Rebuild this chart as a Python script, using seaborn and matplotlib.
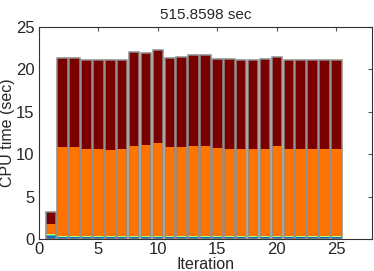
import numpy as np
import pandas as pd
import matplotlib
matplotlib.use("Agg")
import matplotlib.pyplot as plt
import seaborn as sns

sns.set_style("white")
plt.rcParams['font.family'] = ['Liberation Sans', 'DejaVu Sans']

iterations = list(range(1, 26))

# stacked components (bottom to top), seconds
navy = [0.08, 0.05, 0.05, 0.05, 0.05, 0.05, 0.05, 0.05, 0.05, 0.05, 0.05, 0.05, 0.05,
        0.05, 0.05, 0.05, 0.05, 0.05, 0.05, 0.05, 0.05, 0.05, 0.05, 0.05, 0.05]
blue = [0.22, 0.15, 0.15, 0.15, 0.15, 0.15, 0.15, 0.15, 0.15, 0.15, 0.15, 0.15, 0.15,
        0.15, 0.15, 0.15, 0.15, 0.15, 0.15, 0.15, 0.15, 0.15, 0.15, 0.15, 0.15]
green = [0.12, 0.08, 0.08, 0.08, 0.08, 0.08, 0.08, 0.08, 0.08, 0.08, 0.08, 0.08, 0.08,
         0.08, 0.08, 0.08, 0.08, 0.08, 0.08, 0.08, 0.08, 0.08, 0.08, 0.08, 0.08]
lightgreen = [0.17, 0.12, 0.12, 0.12, 0.12, 0.12, 0.12, 0.12, 0.12, 0.12, 0.12, 0.12, 0.12,
              0.12, 0.12, 0.12, 0.12, 0.12, 0.12, 0.12, 0.12, 0.12, 0.12, 0.12, 0.12]
orange = [1.18, 10.41, 10.41, 10.17, 10.17, 10.10, 10.17, 10.53, 10.72, 10.88, 10.41, 10.45, 10.53,
          10.60, 10.29, 10.25, 10.21, 10.25, 10.21, 10.53, 10.25, 10.25, 10.21, 10.21, 10.21]
darkred = [1.41, 10.49, 10.59, 10.50, 10.50, 10.57, 10.50, 11.12, 10.81, 11.05, 10.49, 10.65, 10.77,
           10.70, 10.58, 10.54, 10.46, 10.45, 10.58, 10.49, 10.45, 10.50, 10.46, 10.46, 10.54]

layers = [navy, blue, green, lightgreen, orange, darkred]
colors = ['#0c2a5c', '#0a6fc2', '#3fbf8a', '#b8ff7a', '#ff7300', '#7a0000']

df = pd.DataFrame({'iter': iterations})
cum = np.cumsum(np.array(layers), axis=0)

fig, ax = plt.subplots(figsize=(3.74, 2.71), dpi=100)
fig.subplots_adjust(left=0.104, right=0.995, bottom=0.118, top=0.90)

# draw from the top of the stack down so lower layers cover upper ones
for i in range(len(layers) - 1, -1, -1):
    df['h'] = cum[i]
    sns.barplot(data=df, x='iter', y='h', native_scale=True, width=0.88,
                color=colors[i], saturation=1, linewidth=0, ax=ax)
df['h'] = cum[-1]
sns.barplot(data=df, x='iter', y='h', native_scale=True, width=0.88,
            color='#8c8c8c', fill=False, linewidth=1.1, ax=ax)

ax.set_xlim(0, 28)
ax.set_ylim(0, 25)
ax.set_xticks([0, 5, 10, 15, 20, 25])
ax.set_yticks([0, 5, 10, 15, 20, 25])
ax.tick_params(direction='in', top=True, right=True, length=3, labelsize=12,
               color='#555555')
ax.tick_params(axis='x', pad=2)
ax.tick_params(axis='y', pad=3)
for s in ax.spines.values():
    s.set_color('#333333')
    s.set_linewidth(0.8)
ax.set_xlabel('Iteration', fontsize=11.5, labelpad=0)
ax.set_ylabel('CPU time (sec)', fontsize=11.5, labelpad=1)
ax.set_title('515.8598 sec', fontsize=11, pad=6)

fig.savefig('out.png', dpi=100)
